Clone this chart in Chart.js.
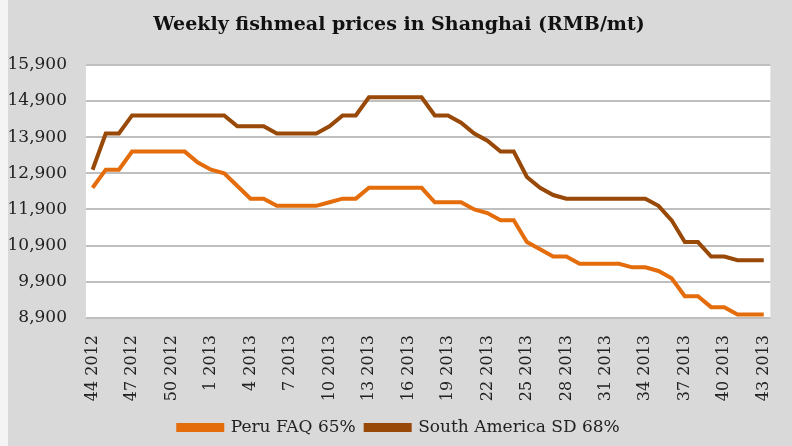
<!DOCTYPE html>
<html>
<head>
<meta charset="utf-8">
<script src="https://cdn.jsdelivr.net/npm/chart.js@4"></script>
<style>
  html, body { margin: 0; padding: 0; background: #f4f4f4; }
  #wrap { position: absolute; left: 8px; top: 0; width: 784px; height: 446px; background: #d9d9d9; }
</style>
</head>
<body>
<div id="wrap"><canvas id="precios"></canvas></div>
<script>
// semanas (44 2012 ... 43 2013)
const weeks = ['44 2012', '45 2012', '46 2012', '47 2012', '48 2012', '49 2012', '50 2012', '51 2012', '52 2012',
  '1 2013', '2 2013', '3 2013', '4 2013', '5 2013', '6 2013', '7 2013', '8 2013', '9 2013', '10 2013',
  '11 2013', '12 2013', '13 2013', '14 2013', '15 2013', '16 2013', '17 2013', '18 2013', '19 2013', '20 2013',
  '21 2013', '22 2013', '23 2013', '24 2013', '25 2013', '26 2013', '27 2013', '28 2013', '29 2013', '30 2013',
  '31 2013', '32 2013', '33 2013', '34 2013', '35 2013', '36 2013', '37 2013', '38 2013', '39 2013', '40 2013',
  '41 2013', '42 2013', '43 2013'];

const peruFAQ = [12500, 13000, 13000, 13500, 13500, 13500, 13500, 13500, 13200, 13000,
  12900, 12550, 12200, 12200, 12000, 12000, 12000, 12000, 12100, 12200,
  12200, 12500, 12500, 12500, 12500, 12500, 12100, 12100, 12100, 11900,
  11800, 11600, 11600, 11000, 10800, 10600, 10600, 10400, 10400, 10400,
  10400, 10300, 10300, 10200, 10000, 9500, 9500, 9200, 9200, 9000,
  9000, 9000];

const southAmSD = [13000, 14000, 14000, 14500, 14500, 14500, 14500, 14500, 14500, 14500,
  14500, 14200, 14200, 14200, 14000, 14000, 14000, 14000, 14200, 14500,
  14500, 15000, 15000, 15000, 15000, 15000, 14500, 14500, 14300, 14000,
  13800, 13500, 13500, 12800, 12500, 12300, 12200, 12200, 12200, 12200,
  12200, 12200, 12200, 12000, 11600, 11000, 11000, 10600, 10600, 10500,
  10500, 10500];

const yTicks = [8900, 9900, 10900, 11900, 12900, 13900, 14900, 15900];

const serif = "'DejaVu Serif', 'Liberation Serif', serif";

// fondo blanco del área de trazado
const plotBg = {
  id: 'plotBg',
  beforeDraw(chart) {
    const a = chart.chartArea;
    const ctx = chart.ctx;
    ctx.save();
    ctx.fillStyle = '#ffffff';
    ctx.fillRect(a.left, a.top, a.right - a.left, a.bottom - a.top);
    ctx.restore();
  }
};

const config = {
  type: 'line',
  data: {
    labels: weeks,
    datasets: [
      {
        label: 'Peru FAQ 65%',
        data: peruFAQ,
        borderColor: '#e46c0a',
        backgroundColor: '#e46c0a',
        borderWidth: 4,
        pointRadius: 0,
        tension: 0
      },
      {
        label: 'South America SD 68%',
        data: southAmSD,
        borderColor: '#984807',
        backgroundColor: '#984807',
        borderWidth: 4,
        pointRadius: 0,
        tension: 0
      }
    ]
  },
  options: {
    responsive: true,
    maintainAspectRatio: false,
    animation: false,
    layout: { padding: { left: 0, right: 2, top: 0, bottom: 0 } },
    plugins: {
      title: {
        display: true,
        text: 'Weekly fishmeal prices in Shanghai (RMB/mt)',
        color: '#111111',
        font: { family: serif, size: 19, weight: 'bold' },
        padding: { top: 14, bottom: 28 }
      },
      legend: {
        position: 'bottom',
        labels: {
          color: '#222222',
          font: { family: serif, size: 17 },
          boxWidth: 44,
          boxHeight: 5,
          padding: 10
        }
      },
      tooltip: { enabled: false }
    },
    scales: {
      x: {
        offset: true,
        grid: { display: false },
        border: { display: false },
        afterFit(scale) { scale.height = 91; },
        ticks: {
          autoSkip: false,
          minRotation: 90,
          maxRotation: 90,
          padding: 9,
          color: '#222222',
          font: { family: serif, size: 16 },
          callback: (v, i) => (i % 3 === 0 ? weeks[i] : '')
        }
      },
      y: {
        min: 8900,
        max: 15900,
        afterFit(scale) { scale.width = 78; },
        afterBuildTicks(scale) { scale.ticks = yTicks.map(v => ({ value: v })); },
        grid: { color: '#bfbfbf', lineWidth: 2, drawTicks: false },
        border: { display: false },
        ticks: {
          padding: 19,
          color: '#222222',
          font: { family: serif, size: 17 },
          callback: v => v.toLocaleString('en-US')
        }
      }
    }
  },
  plugins: [plotBg]
};

const chart = new Chart(document.getElementById('precios'), config);
</script>
</body>
</html>
